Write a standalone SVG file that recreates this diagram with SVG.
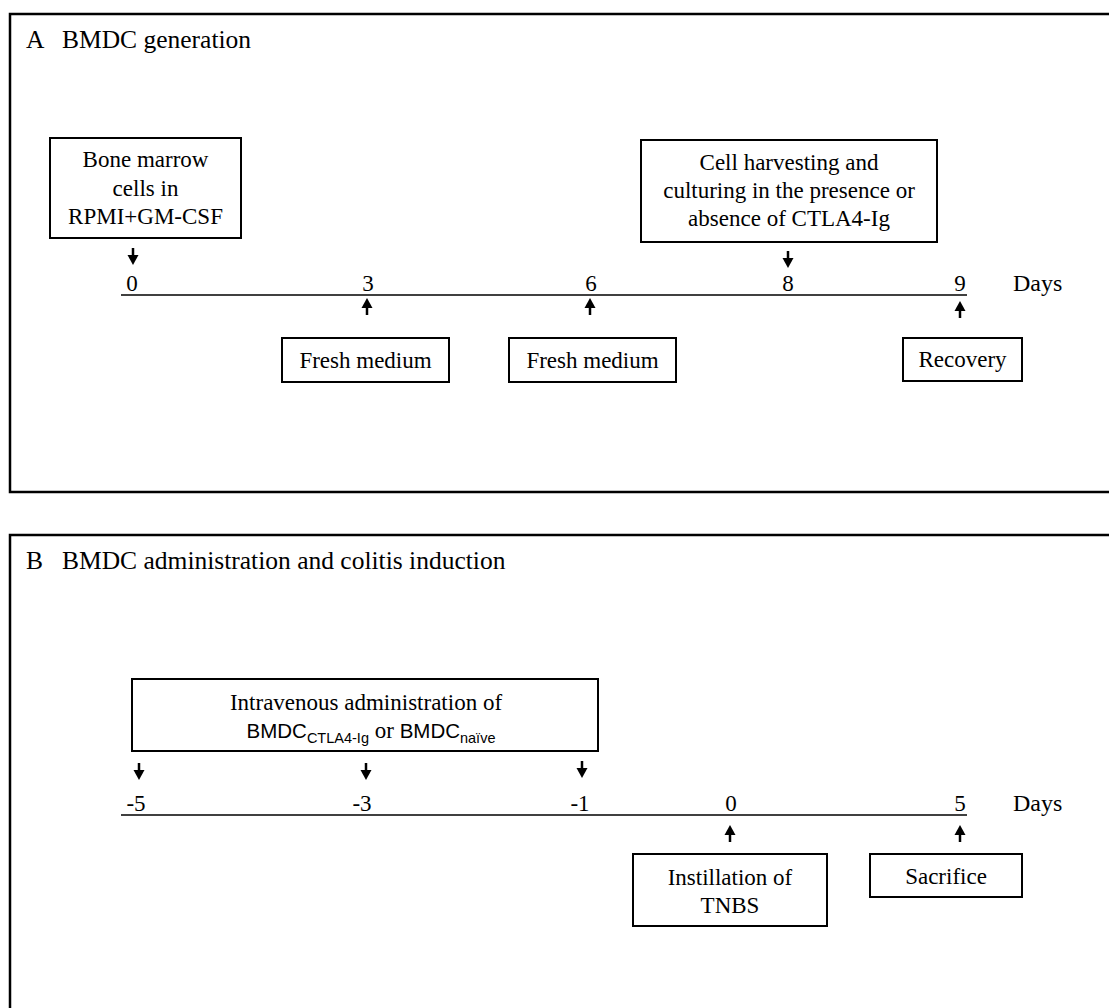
<svg xmlns="http://www.w3.org/2000/svg" xmlns:xlink="http://www.w3.org/1999/xlink" width="1109" height="1008" viewBox="0 0 1109 1008">
<defs>
<style>
.panel{fill:none;stroke:#000;stroke-width:2.5}
.box{fill:#fff;stroke:#000;stroke-width:2}
.axis{stroke:#000;stroke-width:1.6;fill:none}
.t{font-family:"Liberation Serif","Times New Roman",serif;font-size:23px;fill:#000}
.title{font-size:25.5px}
.c{text-anchor:middle}
.s{font-family:"Liberation Sans",Arial,sans-serif;font-size:20.5px}
.sub{font-family:"Liberation Sans",Arial,sans-serif;font-size:14.5px}
</style>
<g id="arrDown"><line x1="0" y1="-17" x2="0" y2="-7" stroke="#000" stroke-width="2.5"/><polygon points="-5.5,-10 5.5,-10 0,0" fill="#000"/></g>
<g id="arrUp"><line x1="0" y1="17" x2="0" y2="7" stroke="#000" stroke-width="2.5"/><polygon points="-5.5,10 5.5,10 0,0" fill="#000"/></g>
</defs>
<rect width="1109" height="1008" fill="#fff"/>

<g id="panelA">
<rect class="panel" x="10" y="14" width="1110" height="478"/>
<text class="t title" x="26" y="48">A<tspan x="62">BMDC generation</tspan></text>
</g>
<g id="panelB">
<rect class="panel" x="10" y="535" width="1110" height="500"/>
<text class="t title" x="26" y="569">B<tspan x="62">BMDC administration and colitis induction</tspan></text>
</g>

<g id="connectors">
<line class="axis" x1="121" y1="295" x2="967" y2="295"/>
<use xlink:href="#arrDown" x="133" y="265"/>
<use xlink:href="#arrDown" x="788" y="268"/>
<use xlink:href="#arrUp" x="367" y="298"/>
<use xlink:href="#arrUp" x="590" y="298"/>
<use xlink:href="#arrUp" x="960" y="301"/>
<line class="axis" x1="121" y1="815" x2="967" y2="815"/>
<use xlink:href="#arrDown" x="139" y="780"/>
<use xlink:href="#arrDown" x="366" y="780"/>
<use xlink:href="#arrDown" x="582" y="778"/>
<use xlink:href="#arrUp" x="730" y="825"/>
<use xlink:href="#arrUp" x="960" y="825"/>
</g>

<g id="axisA-labels">
<text class="t c" x="132" y="291">0</text>
<text class="t c" x="368" y="291">3</text>
<text class="t c" x="591" y="291">6</text>
<text class="t c" x="788" y="291">8</text>
<text class="t c" x="960" y="291">9</text>
<text class="t" x="1013" y="291" style="font-size:24px">Days</text>
</g>
<g id="axisB-labels">
<text class="t c" x="136" y="811">-5</text>
<text class="t c" x="362" y="811">-3</text>
<text class="t c" x="580" y="811">-1</text>
<text class="t c" x="731" y="811">0</text>
<text class="t c" x="960" y="811">5</text>
<text class="t" x="1013" y="811" style="font-size:24px">Days</text>
</g>

<g id="node-bone-marrow">
<rect class="box" x="50" y="138" width="191" height="100"/>
<text class="t c" x="145.5" y="167">Bone marrow</text>
<text class="t c" x="145.5" y="196">cells in</text>
<text class="t c" x="145.5" y="224">RPMI+GM-CSF</text>
</g>
<g id="node-harvest">
<rect class="box" x="641" y="140" width="296" height="102"/>
<text class="t c" x="789" y="170">Cell harvesting and</text>
<text class="t c" x="789" y="198">culturing in the presence or</text>
<text class="t c" x="789" y="226">absence of CTLA4-Ig</text>
</g>
<g id="node-fresh1">
<rect class="box" x="282" y="338" width="167" height="44"/>
<text class="t c" x="365.5" y="368">Fresh medium</text>
</g>
<g id="node-fresh2">
<rect class="box" x="509" y="338" width="167" height="44"/>
<text class="t c" x="592.5" y="368">Fresh medium</text>
</g>
<g id="node-recovery">
<rect class="box" x="903" y="338" width="119" height="43"/>
<text class="t c" x="962.5" y="367">Recovery</text>
</g>

<g id="node-iv">
<rect class="box" x="132" y="679" width="466" height="72"/>
<text class="t c" x="366" y="710">Intravenous administration of</text>
<text class="t c" x="371" y="738"><tspan class="s">BMDC</tspan><tspan class="sub" dy="5">CTLA4-Ig</tspan><tspan dy="-5"> or </tspan><tspan class="s">BMDC</tspan><tspan class="sub" dy="5">naïve</tspan></text>
</g>
<g id="node-tnbs">
<rect class="box" x="633" y="854" width="194" height="72"/>
<text class="t c" x="730" y="885">Instillation of</text>
<text class="t c" x="730" y="913">TNBS</text>
</g>
<g id="node-sacrifice">
<rect class="box" x="870" y="854" width="152" height="43"/>
<text class="t c" x="946" y="884">Sacrifice</text>
</g>
</svg>
